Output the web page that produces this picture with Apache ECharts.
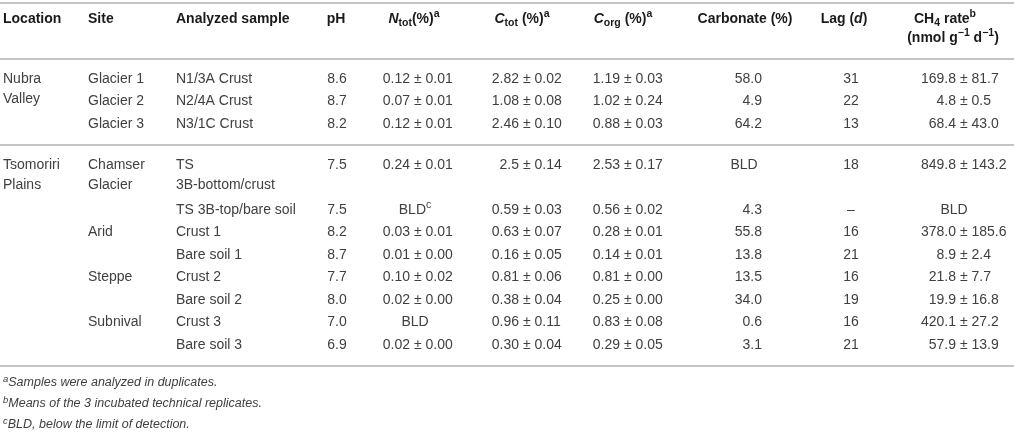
<!DOCTYPE html>
<html>
<head>
<meta charset="utf-8">
<script src="https://cdn.jsdelivr.net/npm/echarts/dist/echarts.min.js"></script>
<style>
html,body{margin:0;padding:0;background:#fff;}
#table{width:1014px;height:435px;}
</style>
</head>
<body>
<div id="table"></div>
<script>
// table data
var locations = [['Nubra', 'Valley'], ['Tsomoriri', 'Plains']];
var groupRows = [3, 8];
var sites = [['Glacier 1'], ['Glacier 2'], ['Glacier 3'], ['Chamser', 'Glacier'], [], ['Arid'], [], ['Steppe'], [], ['Subnival'], []];
var samples = [['N1/3A Crust'], ['N2/4A Crust'], ['N3/1C Crust'], ['TS', '3B-bottom/crust'], ['TS 3B-top/bare soil'],
    ['Crust 1'], ['Bare soil 1'], ['Crust 2'], ['Bare soil 2'], ['Crust 3'], ['Bare soil 3']];
var ph = [8.6, 8.7, 8.2, 7.5, 7.5, 8.2, 8.7, 7.7, 8.0, 7.0, 6.9];
var ntot = ['0.12 ± 0.01', '0.07 ± 0.01', '0.12 ± 0.01', '0.24 ± 0.01', 'BLD^c', '0.03 ± 0.01', '0.01 ± 0.00',
    '0.10 ± 0.02', '0.02 ± 0.00', 'BLD', '0.02 ± 0.00'];
var ctot = ['2.82 ± 0.02', '1.08 ± 0.08', '2.46 ± 0.10', '2.5 ± 0.14', '0.59 ± 0.03', '0.63 ± 0.07', '0.16 ± 0.05',
    '0.81 ± 0.06', '0.38 ± 0.04', '0.96 ± 0.11', '0.30 ± 0.04'];
var corg = ['1.19 ± 0.03', '1.02 ± 0.24', '0.88 ± 0.03', '2.53 ± 0.17', '0.56 ± 0.02', '0.28 ± 0.01', '0.14 ± 0.01',
    '0.81 ± 0.00', '0.25 ± 0.00', '0.83 ± 0.08', '0.29 ± 0.05'];
var carbonate = ['58.0', '4.9', '64.2', 'BLD', '4.3', '55.8', '13.8', '13.5', '34.0', '0.6', '3.1'];
var lag = ['31', '22', '13', '18', '–', '16', '21', '16', '19', '16', '21'];
var ch4Rate = ['169.8 ± 81.7', '4.8 ± 0.5', '68.4 ± 43.0', '849.8 ± 143.2', 'BLD', '378.0 ± 185.6', '8.9 ± 2.4',
    '21.8 ± 7.7', '19.9 ± 16.8', '420.1 ± 27.2', '57.9 ± 13.9'];
var headers = [
    ['{h|Location}'],
    ['{h|Site}'],
    ['{h|Analyzed sample}'],
    ['{h|pH}'],
    ['{hi|N}{hsub|tot}{h|(%)}{hsup|a}'],
    ['{hi|C}{hsub|tot}{h| (%)}{hsup|a}'],
    ['{hi|C}{hsub|org}{h| (%)}{hsup|a}'],
    ['{h|Carbonate (%)}'],
    ['{h|Lag (}{hi|d}{h|)}'],
    ['{h|CH}{hsub|4}{h| rate}{hsup|b}', '{h|(nmol g}{hsup|−1}{h| d}{hsup|−1}{h|)}']
];
var footnotes = [
    ['a', 'Samples were analyzed in duplicates.'],
    ['b', 'Means of the 3 incubated technical replicates.'],
    ['c', 'BLD, below the limit of detection.']
];

// layout
var FONT = '"Liberation Sans", Arial, sans-serif';
var headX = [3, 88, 176, 336, 414, 522, 623, 745, 844, 948];
var headAlign = ['left', 'left', 'left', 'center', 'center', 'center', 'center', 'center', 'center', 'center'];
var headY = [19, 38];
var rowPitch = 22.5, wrapPitch = 20.5, ruleGap = 20, endGap = 21;

var cells = [];
var rules = [3, 59];
function addCell(x, y, text, align) {
    cells.push({x: x, y: y, text: text.replace(/\^(\w)/g, '{sup|$1}'), align: align});
}
function addPm(value, pmX, centerX, y) {
    var p = value.split(' ± ');
    if (p.length < 2) {
        addCell(centerX, y, value, 'center');
        return;
    }
    addCell(pmX - 8, y, p[0], 'right');
    addCell(pmX - 4.1, y, '± ' + p[1], 'left');
}

headers.forEach(function (h, i) {
    h.forEach(function (t, j) {
        var dx = i === 9 ? (j === 1 ? 5 : -3) : 0;
        cells.push({x: headX[i] + dx, y: headY[j], text: t, align: headAlign[i]});
    });
});

var rowIdx = 0, ruleY = 59;
groupRows.forEach(function (n, g) {
    var y0 = ruleY + ruleGap, slot = 0;
    locations[g].forEach(function (t, j) {
        addCell(3, y0 + j * wrapPitch, t, 'left');
    });
    for (var k = 0; k < n; k++, rowIdx++) {
        var r = rowIdx;
        var y = y0 + slot * rowPitch;
        sites[r].forEach(function (t, j) { addCell(88, y + j * wrapPitch, t, 'left'); });
        samples[r].forEach(function (t, j) { addCell(176, y + j * wrapPitch, t, 'left'); });
        addCell(337, y, ph[r].toFixed(1), 'center');
        addPm(ntot[r], 418, 415, y);
        addPm(ctot[r], 527, 522, y);
        addPm(corg[r], 628, 623, y);
        if (isNaN(parseFloat(carbonate[r]))) {
            addCell(744, y, carbonate[r], 'center');
        } else {
            addCell(762, y, carbonate[r], 'right');
        }
        addCell(851, y, lag[r], 'center');
        addPm(ch4Rate[r], 964, 954, y);
        slot += Math.max(sites[r].length, samples[r].length, 1);
    }
    ruleY = y0 + (slot - 1) * rowPitch + endGap;
    rules.push(ruleY);
});

footnotes.forEach(function (f, i) {
    cells.push({x: 3, y: 383 + i * 21, text: '{fsup|' + f[0] + '}{fi|' + f[1] + '}', align: 'left'});
});

var rich = {
    h: {fontFamily: FONT, fontSize: 14, fontWeight: 'bold', fill: '#1a1a1a', lineHeight: 20},
    hi: {fontFamily: FONT, fontSize: 14, fontWeight: 'bold', fontStyle: 'italic', fill: '#1a1a1a', lineHeight: 20},
    hsub: {fontFamily: FONT, fontSize: 10.5, fontWeight: 'bold', fill: '#1a1a1a', verticalAlign: 'bottom', lineHeight: 12},
    hsup: {fontFamily: FONT, fontSize: 10.5, fontWeight: 'bold', fill: '#1a1a1a', verticalAlign: 'top', lineHeight: 15},
    sup: {fontFamily: FONT, fontSize: 10.5, fill: '#404040', verticalAlign: 'top', lineHeight: 15},
    fi: {fontFamily: FONT, fontSize: 12.5, fontStyle: 'italic', fill: '#404040', lineHeight: 18},
    fsup: {fontFamily: FONT, fontSize: 9.5, fontStyle: 'italic', fill: '#404040', verticalAlign: 'top', lineHeight: 13}
};

var chart = echarts.init(document.getElementById('table'));
var option = {
    animation: false,
    grid: {left: 0, right: 0, top: 0, bottom: 0},
    xAxis: {type: 'value', min: 0, max: 1014, show: false},
    yAxis: {type: 'value', min: 0, max: 435, inverse: true, show: false},
    series: [
        {
            type: 'custom',
            silent: true,
            data: rules.map(function (y) { return [0, y]; }),
            renderItem: function (params, api) {
                var a = api.coord([0, api.value(1)]);
                var b = api.coord([1014, api.value(1)]);
                return {
                    type: 'line',
                    shape: {x1: a[0], y1: a[1], x2: b[0], y2: b[1]},
                    style: {stroke: '#b0b0b0', lineWidth: 1.6}
                };
            }
        },
        {
            type: 'custom',
            silent: true,
            data: cells.map(function (c) { return [c.x, c.y]; }),
            renderItem: function (params, api) {
                var c = cells[params.dataIndex];
                var p = api.coord([api.value(0), api.value(1)]);
                return {
                    type: 'text',
                    x: p[0],
                    y: p[1],
                    style: {
                        text: c.text,
                        fontFamily: FONT,
                        fontSize: 14,
                        fill: '#404040',
                        lineHeight: 20,
                        align: c.align,
                        verticalAlign: 'middle',
                        rich: rich
                    }
                };
            }
        }
    ]
};
chart.setOption(option);
</script>
</body>
</html>
